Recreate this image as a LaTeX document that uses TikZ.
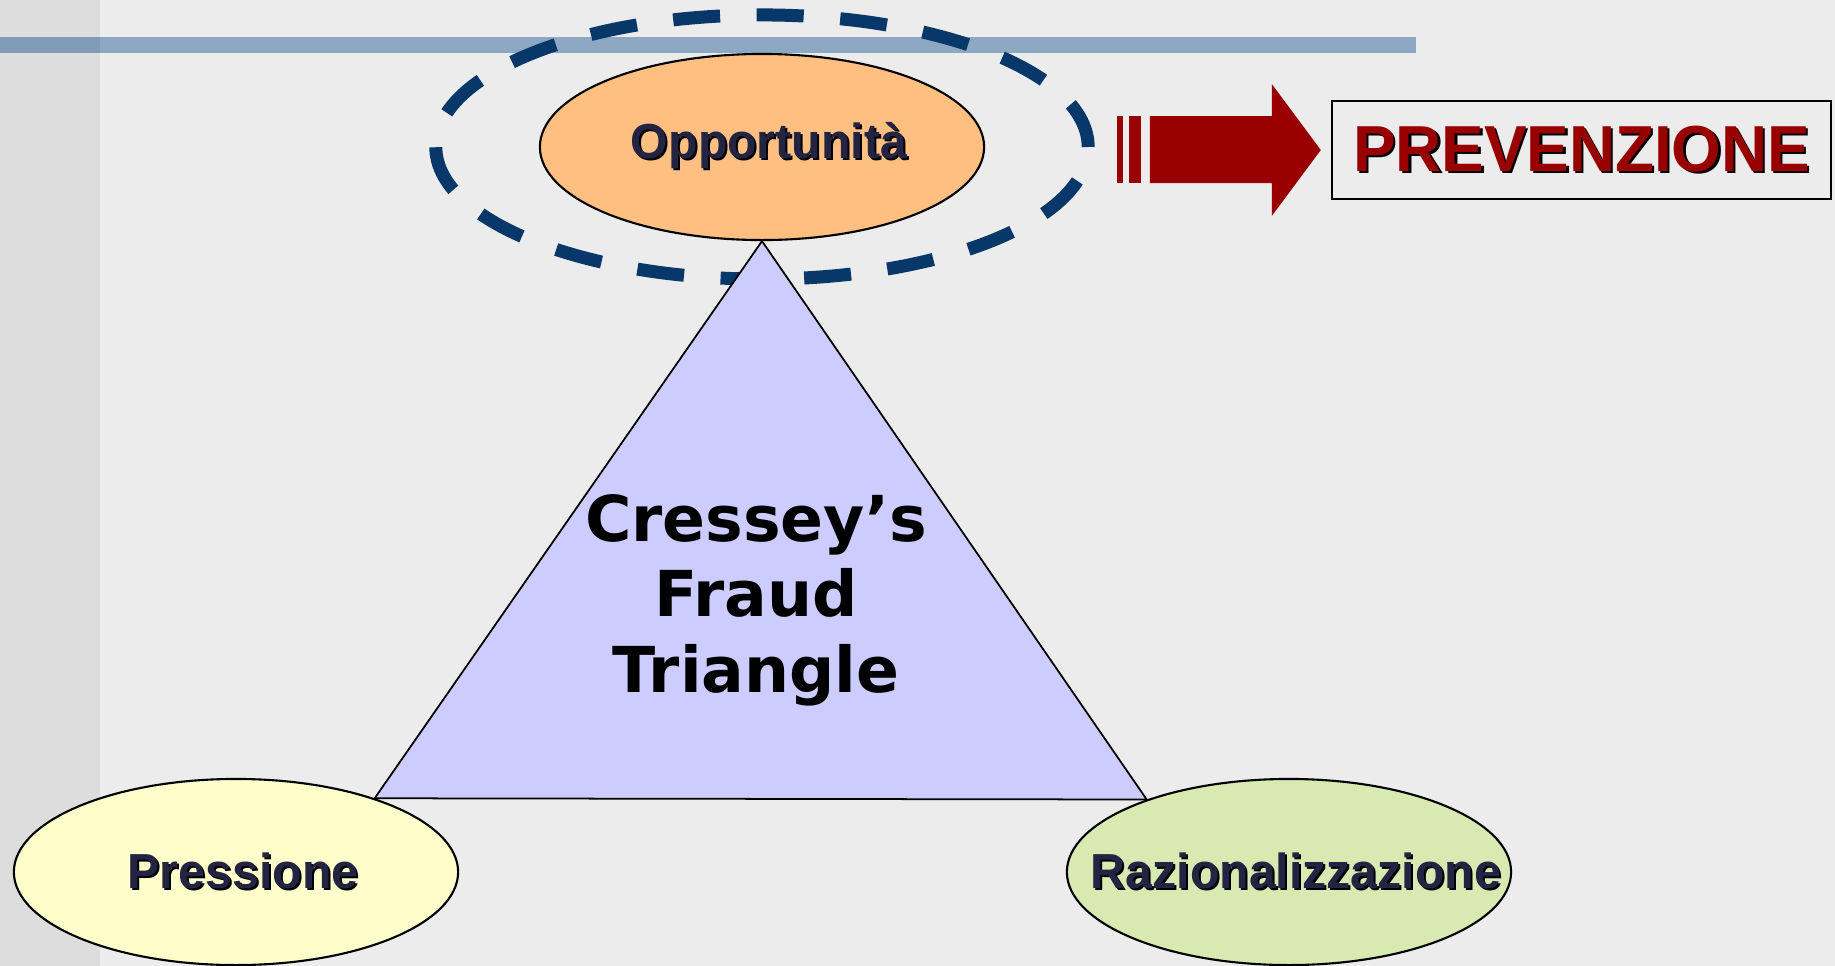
\documentclass[tikz,border=0pt]{standalone}
\usepackage{fontspec}
\setmainfont{Liberation Sans}
\newfontfamily\labelfont[FakeStretch=0.98]{Liberation Sans}
\newfontfamily\titlefont{DejaVu Sans}
\usetikzlibrary{shapes.geometric}

\definecolor{bgcol}{RGB}{236,236,236}
\definecolor{bandcol}{RGB}{221,221,221}
\definecolor{barcol}{RGB}{142,168,195}
\definecolor{bardark}{RGB}{128,155,183}
\definecolor{ringcol}{RGB}{8,56,106}
\definecolor{oppcol}{RGB}{255,191,128}
\definecolor{prescol}{RGB}{255,255,204}
\definecolor{razcol}{RGB}{216,234,178}
\definecolor{tricol}{RGB}{204,204,255}
\definecolor{inkcol}{RGB}{35,35,66}
\definecolor{redcol}{RGB}{153,0,0}

% text with a small black drop shadow
\newcommand\dropshadow[3]{\makebox[0pt][l]{\kern#3\raisebox{-#3}{\color{black}#2}}{\color{#1}#2}}
% label of fixed-size oval: zero-width box, nudged a little to the right
\newcommand\ovaltext[1]{\makebox[0pt]{\kern0.14cm\dropshadow{inkcol}{#1}{0.02cm}}}

\pgfdeclarelayer{backdrop}
\pgfdeclarelayer{middle}
\pgfsetlayers{backdrop,middle,main}

\tikzset{
  oval/.style={ellipse, draw=black, line width=0.6pt, minimum width=4.44cm,
    minimum height=1.86cm, inner sep=0pt,
    font=\labelfont\bfseries\fontsize{14}{16}\selectfont},
  ring/.style={ellipse, draw=ringcol, line width=0.13cm,
    dash pattern=on 0.47cm off 0.366cm, minimum width=6.52cm,
    minimum height=2.64cm, inner sep=0pt},
  tri/.style={draw=black, line width=0.5pt, fill=tricol, line join=miter},
  framebox/.style={draw=black, line width=0.6pt, minimum width=4.99cm,
    minimum height=0.98cm, inner sep=0pt,
    font=\labelfont\bfseries\fontsize{18.5}{20}\selectfont},
  titletext/.style={font=\titlefont\bfseries\fontsize{18}{21.5}\selectfont,
    inner sep=0pt, anchor=base}
}

\begin{document}
\begin{tikzpicture}[x=0.01cm,y=-0.01cm]
\useasboundingbox (0,0) rectangle (1835,966);

\begin{pgfonlayer}{backdrop}
  \fill[bgcol] (0,0) rectangle (1835,966);
  \fill[bandcol] (0,0) rectangle (100,966);
  \fill[barcol] (100,37) rectangle (1416,53);
  \fill[bardark] (0,37) rectangle (100,53);
\end{pgfonlayer}

% the three corners of the triangle
\node[oval, fill=oppcol] (opp) at (762,147) {\ovaltext{Opportunità}};
\node[oval, fill=prescol] (pres) at (236,872) {\ovaltext{Pressione}};
\node[oval, fill=razcol] (raz) at (1289,872) {\ovaltext{Razionalizzazione}};

\begin{pgfonlayer}{middle}
  \node[ring] (focus) at (opp.center) {};
  \draw[tri] (opp.south) -- (pres.28) -- (raz.153) -- cycle;
\end{pgfonlayer}

\node[titletext] (title) at (756,541)
  {\begin{tabular}[t]{@{}c@{}}Cressey’s\\Fraud\\Triangle\end{tabular}};

% prevention box and the block arrow pointing at it
\node[framebox] (prev) at (1581.5,150) {\dropshadow{redcol}{PREVENZIONE}{0.025cm}};
\coordinate (tip) at ([xshift=-0.1cm]prev.west);
\fill[redcol] (tip) -- ++(-49,-66) -- ++(0,32) -- ++(-122,0) -- ++(0,67)
  -- ++(122,0) -- ++(0,33) -- cycle;
\fill[redcol] ([xshift=-1.915cm,yshift=0.34cm]tip) rectangle ([xshift=-1.794cm,yshift=-0.33cm]tip);
\fill[redcol] ([xshift=-2.035cm,yshift=0.34cm]tip) rectangle ([xshift=-1.977cm,yshift=-0.33cm]tip);
\end{tikzpicture}
\end{document}
